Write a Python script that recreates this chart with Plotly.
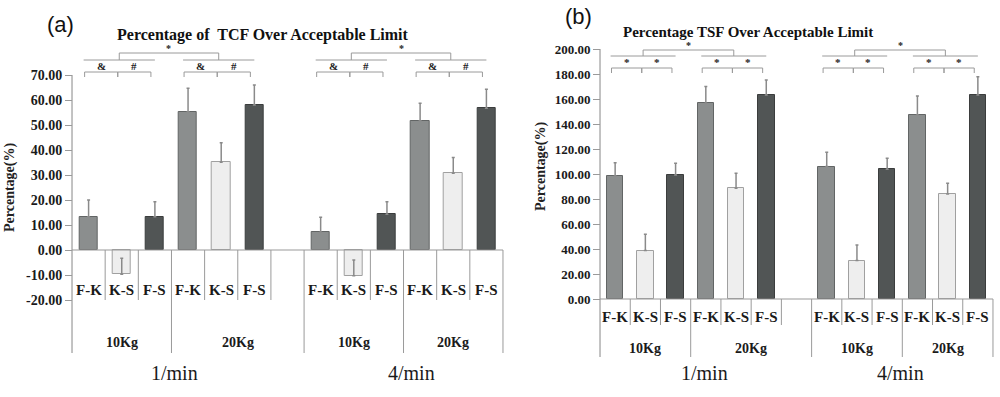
import plotly.graph_objects as go

# ---------------- data ----------------
rates = ["1/min", "4/min"]
loads = ["10Kg", "20Kg"]
pairs = ["F-K", "K-S", "F-S"]

# order of values: 1/min-10Kg, 1/min-20Kg, 4/min-10Kg, 4/min-20Kg
tcf_fk = [13.3, 55.3, 7.1, 51.7]
tcf_ks = [-9.7, 35.1, -10.3, 30.7]
tcf_fs = [13.3, 58.0, 14.3, 56.7]
tcf_fk_err = [6.7, 9.4, 6.0, 7.0]
tcf_ks_err = [6.4, 7.8, 6.3, 6.3]
tcf_fs_err = [6.0, 8.0, 5.0, 7.6]

tsf_fk = [98.4, 156.5, 105.9, 147.2]
tsf_ks = [38.7, 88.5, 30.7, 84.0]
tsf_fs = [99.2, 163.2, 103.7, 163.2]
tsf_fk_err = [10.6, 13.4, 11.4, 15.2]
tsf_ks_err = [13.0, 12.0, 12.5, 8.5]
tsf_fs_err = [9.3, 12.0, 8.8, 14.6]

tcf_ticks = list(range(-20, 71, 10))
tsf_ticks = list(range(0, 201, 20))
tcf_marks = ["&", "#"]
tsf_marks = ["*", "*"]
top_mark = "*"

titles = ["Percentage of  TCF Over Acceptable Limit", "Percentage TSF Over Acceptable Limit"]
panel_tags = ["(a)", "(b)"]
ytitle = "Percentage(%)"

# ---------------- styles ----------------
fills = ["#8b8e8e", "#eeeeee", "#515555"]
borders = ["#626565", "#a0a0a0", "#3b3d3d"]
errc = "#8a8a8a"
linec = "#9a9a9a"
SERIF = "Liberation Serif, Times New Roman, serif"
W, H = 1000, 397


def pos(g, p):
    # g: group index 0..3 (rate*2+load), p: pair index 0..2
    return 7 * (g // 2) + 3 * (g % 2) + p


fig = go.Figure()

panels = [
    dict(xa="x", ya="y", vals=[tcf_fk, tcf_ks, tcf_fs], errs=[tcf_fk_err, tcf_ks_err, tcf_fs_err],
         ticks=tcf_ticks, marks=tcf_marks, ytop=70, yr=[-42.8, 84], xdom=[68.7, 506.3],
         short_bot=-20, long_bot=-41.2, lab_y=-16, load_y=-36.8,
         top_y=78.8, low_y=76.0, star_y=80.6, pair_y=71.2, pair_drop=2.0, mark_y=73.6,
         rate_x=[2.6, 9.75], ylab_x=10, ylab_y=188, title_x=263, title_y=35, title_size=16,
         tag_x=60, tag_y=24, axis_px=72),
    dict(xa="x2", ya="y2", vals=[tsf_fk, tsf_ks, tsf_fs], errs=[tsf_fk_err, tsf_ks_err, tsf_fs_err],
         ticks=tsf_ticks, marks=tsf_marks, ytop=200, yr=[-46.4, 207.2], xdom=[597.0, 996.0],
         short_bot=-20.8, long_bot=-46.4, lab_y=-14.4, load_y=-39.2,
         top_y=199.2, low_y=194.4, star_y=203.2, pair_y=184.8, pair_drop=4.0, mark_y=190.0,
         rate_x=[2.95, 9.45], ylab_x=541, ylab_y=167, title_x=748, title_y=32, title_size=15,
         tag_x=578, tag_y=16, axis_px=600),
]

shapes = []
annotations = []

for k, P in enumerate(panels):
    xa, ya = P["xa"], P["ya"]
    for p in range(3):
        xs = [pos(g, p) for g in range(4)]
        fig.add_trace(go.Bar(
            x=xs, y=P["vals"][p], width=0.55, xaxis=xa, yaxis=ya,
            marker=dict(color=fills[p], line=dict(color=borders[p], width=1)),
            error_y=dict(type="data", symmetric=False, array=P["errs"][p],
                         arrayminus=[0] * 4, color=errc, thickness=1.5, width=1.5),
            showlegend=False, hoverinfo="skip"))

    ref = dict(xref=xa, yref=ya)
    # y axis line and zero line
    shapes.append(dict(type="line", x0=-0.5, x1=-0.5, y0=P["ytop"], y1=P["long_bot"],
                       line=dict(color=linec, width=1.2), **ref))
    shapes.append(dict(type="line", x0=-0.5, x1=12.5, y0=0, y1=0,
                       line=dict(color=linec, width=1.2), **ref))
    # category separators
    long_x = [-0.5, 2.5, 6.5, 9.5, 12.5]
    for b in [i + 0.5 for i in range(13)]:
        if b in long_x:
            continue
        shapes.append(dict(type="line", x0=b, x1=b, y0=0, y1=P["short_bot"],
                           line=dict(color=linec, width=1), **ref))
    for b in long_x[1:]:
        shapes.append(dict(type="line", x0=b, x1=b, y0=0, y1=P["long_bot"],
                           line=dict(color=linec, width=1), **ref))

    # category labels
    for g in range(4):
        for p in range(3):
            annotations.append(dict(x=pos(g, p), y=P["lab_y"], text=pairs[p], showarrow=False,
                                    font=dict(family=SERIF, size=15, color="#1a1a1a", weight="bold"),
                                    **ref))
    load_centers = [1.0, 4.5, 8.0, 11.0]
    for g in range(4):
        annotations.append(dict(x=load_centers[g], y=P["load_y"], text=loads[g % 2], showarrow=False,
                                font=dict(family=SERIF, size=14, color="#1a1a1a", weight="bold"),
                                **ref))
    for r in range(2):
        annotations.append(dict(x=P["rate_x"][r], y=1 - 373 / H, xref=xa, yref="paper",
                                text=rates[r], showarrow=False, yanchor="middle", xanchor="center",
                                font=dict(family=SERIF, size=20, color="#1a1a1a")))

    # significance brackets
    def bracket(x0, x1, y, drop):
        return dict(type="path", path=f"M {x0},{y - drop} L {x0},{y} L {x1},{y} L {x1},{y - drop}",
                    line=dict(color=linec, width=1), **ref)

    for r in range(2):
        g0, g1 = 2 * r, 2 * r + 1
        lows = []
        for g in (g0, g1):
            a0 = pos(g, 0) - 0.15
            a1 = pos(g, 2) + 0.0
            shapes.append(dict(type="line", x0=a0, x1=a1, y0=P["low_y"], y1=P["low_y"],
                               line=dict(color=linec, width=1), **ref))
            lows.append((a0 + a1) / 2)
            for j in range(2):
                bx0 = pos(g, j) - 0.12
                bx1 = pos(g, j + 1) - 0.12
                shapes.append(bracket(bx0, bx1, P["pair_y"], P["pair_drop"]))
                annotations.append(dict(x=(bx0 + bx1) / 2, y=P["mark_y"], text=P["marks"][j],
                                        showarrow=False, yanchor="middle",
                                        font=dict(family=SERIF, size=11, color="#222", weight="bold"),
                                        **ref))
        shapes.append(bracket(lows[0], lows[1], P["top_y"], P["top_y"] - P["low_y"]))
        annotations.append(dict(x=(lows[0] + lows[1]) / 2, y=P["star_y"], text=top_mark,
                                showarrow=False, yanchor="middle",
                                font=dict(family=SERIF, size=10, color="#222", weight="bold"), **ref))

    # titles, tags, y titles
    annotations.append(dict(x=P["title_x"] / W, y=1 - P["title_y"] / H, xref="paper", yref="paper",
                            text=titles[k], showarrow=False, xanchor="center", yanchor="middle",
                            font=dict(family=SERIF, size=P["title_size"], color="#111", weight="bold")))
    annotations.append(dict(x=P["tag_x"] / W, y=1 - P["tag_y"] / H, xref="paper", yref="paper",
                            text=panel_tags[k], showarrow=False, xanchor="center", yanchor="middle",
                            font=dict(family="Liberation Sans", size=22, color="#111")))
    annotations.append(dict(x=P["ylab_x"] / W, y=1 - P["ylab_y"] / H, xref="paper", yref="paper",
                            text=ytitle, showarrow=False, textangle=-90,
                            xanchor="center", yanchor="middle",
                            font=dict(family=SERIF, size=14, color="#222", weight="bold")))

ydom = [1 - 357 / H, 1 - 40 / H]
axis_common_x = dict(range=[-0.6, 12.6], showgrid=False, zeroline=False, showline=False,
                     showticklabels=False, ticks="", fixedrange=True)

fig.update_layout(
    width=W, height=H, margin=dict(l=0, r=0, t=0, b=0),
    paper_bgcolor="white", plot_bgcolor="white", showlegend=False, bargap=0,
    xaxis=dict(domain=[panels[0]["xdom"][0] / W, panels[0]["xdom"][1] / W], anchor="y", **axis_common_x),
    xaxis2=dict(domain=[panels[1]["xdom"][0] / W, panels[1]["xdom"][1] / W], anchor="y2", **axis_common_x),
    yaxis=dict(domain=ydom, range=panels[0]["yr"], anchor="free", position=panels[0]["axis_px"] / W,
               tickvals=tcf_ticks, ticktext=[f"{v:.2f}" for v in tcf_ticks],
               ticks="outside", ticklen=7, tickcolor=linec, showgrid=False, zeroline=False,
               showline=False, fixedrange=True,
               tickfont=dict(family=SERIF, size=14, color="#1a1a1a", weight="bold")),
    yaxis2=dict(domain=ydom, range=panels[1]["yr"], anchor="free", position=panels[1]["axis_px"] / W,
                tickvals=tsf_ticks, ticktext=[f"{v:.2f}" for v in tsf_ticks],
                ticks="outside", ticklen=7, tickcolor=linec, showgrid=False, zeroline=False,
                showline=False, fixedrange=True,
                tickfont=dict(family=SERIF, size=13, color="#1a1a1a", weight="bold")),
    shapes=shapes, annotations=annotations,
)

fig.write_html("out.html", config={"displayModeBar": False},
               post_script="document.body.style.margin='0';document.body.style.overflow='hidden';")
